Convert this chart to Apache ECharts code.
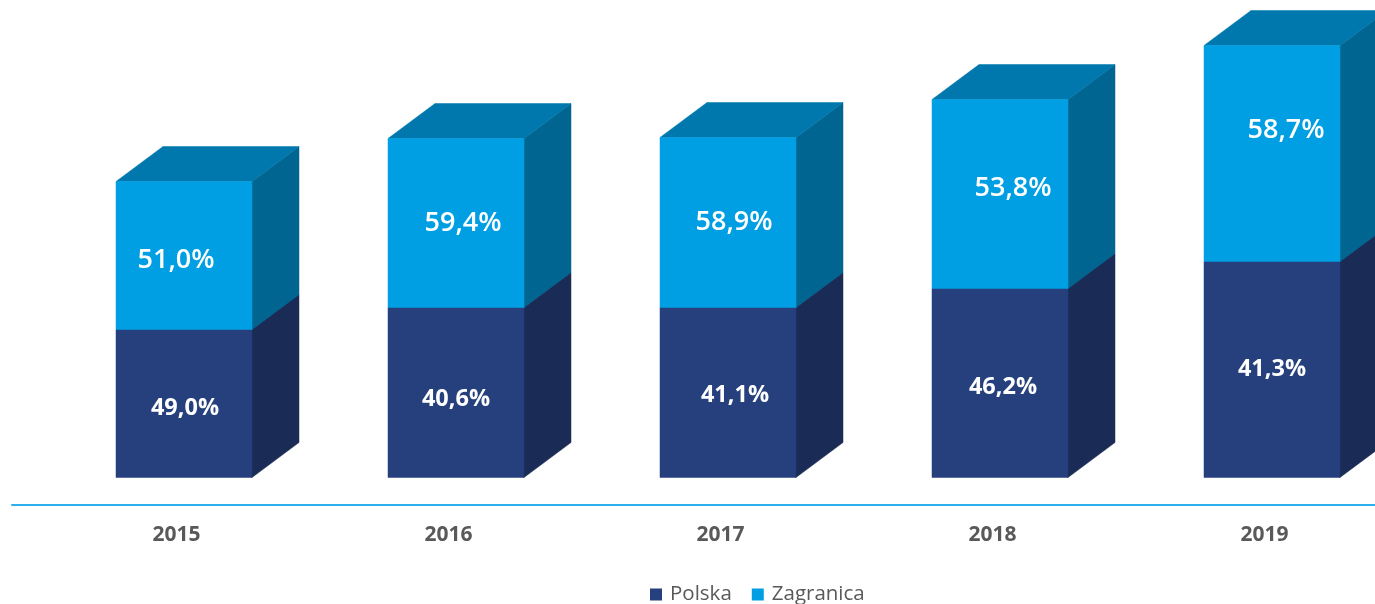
<!DOCTYPE html>
<html>
<head>
<meta charset="utf-8">
<style>html,body{margin:0;padding:0;background:#fff}#c{width:1375px;height:604px}</style>
<script src="https://cdn.jsdelivr.net/npm/echarts@6/dist/echarts.min.js"></script>
</head>
<body>
<div id="c"></div>
<script>
// Data (bar heights are on an arbitrary scale)
const years = ['2015', '2016', '2017', '2018', '2019'];
const polska = [148, 170, 170, 189, 216];
const zagranica = [148, 169, 170, 189, 216];
const polskaLabels = ['49,0%', '40,6%', '41,1%', '46,2%', '41,3%'];
const zagranicaLabels = ['51,0%', '59,4%', '58,9%', '53,8%', '58,7%'];

// Layout / style, separate from the data
const FONT = '"Open Sans", sans-serif';
const BAR_W = 136, DX = 47, DY = 35, FLOOR = 27.5, BAR_SHIFT = 36;
const polskaLabelShift = [[1, 5], [0, 7], [7, 3], [3, 4], [0, 0]];
const zagranicaLabelShift = [[-8, 5], [7, 0], [6, 0], [13, -6], [14, -23]];
const polskaStyle = {front: '#25407C', side: '#1A2B55', top: '#1F3568', size: 23.5, labels: polskaLabels, shift: polskaLabelShift, weight: 700};
const zagStyle = {front: '#009EE2', side: '#006591', top: '#0078AD', size: 27, labels: zagranicaLabels, shift: zagranicaLabelShift, weight: 600};

function box(st) {
  return function (params, api) {
    const i = params.dataIndex;
    const cx = api.coord([api.value(0), 0])[0] + BAR_SHIFT;
    const yb = api.coord([0, api.value(1)])[1] - FLOOR;
    const yt = api.coord([0, api.value(1) + api.value(2)])[1] - FLOOR;
    const l = cx - BAR_W / 2, r = cx + BAR_W / 2;
    const poly = (pts, fill) => ({type: 'polygon', shape: {points: pts}, style: {fill: fill, stroke: fill, lineWidth: 0.5}});
    return {
      type: 'group',
      children: [
        poly([[r, yt], [r + DX, yt - DY], [r + DX, yb - DY], [r, yb]], st.side),
        poly([[l, yt], [l + DX, yt - DY], [r + DX, yt - DY], [r, yt]], st.top),
        poly([[l, yt], [r, yt], [r, yb], [l, yb]], st.front),
        {
          type: 'text',
          style: {
            text: st.labels[i],
            x: cx + st.shift[i][0],
            y: (yt + yb) / 2 + st.shift[i][1],
            fill: '#fff',
            font: st.weight + ' ' + st.size + 'px ' + FONT,
            textAlign: 'center',
            textVerticalAlign: 'middle'
          }
        }
      ]
    };
  };
}

const chart = echarts.init(document.getElementById('c'), null, {renderer: 'canvas'});
chart.setOption({
  animation: false,
  backgroundColor: '#fff',
  grid: {left: 12, top: 5, width: 1360, height: 500},
  xAxis: {
    type: 'category',
    data: years,
    axisTick: {show: false},
    axisLine: {lineStyle: {color: '#2BB0EC', width: 2}},
    axisLabel: {color: '#595959', fontFamily: FONT, fontWeight: 'bold', fontSize: 21, margin: 20, padding: [0, 0, 0, 57]}
  },
  yAxis: {type: 'value', min: 0, max: 500, show: false, splitLine: {show: false}},
  legend: {
    left: 645, top: 579, icon: 'rect', itemWidth: 12, itemHeight: 12, itemGap: 20,
    textStyle: {color: '#595959', fontFamily: FONT, fontSize: 20.5, padding: [0, 0, 0, 3]},
    data: [
      {name: 'Polska', itemStyle: {color: polskaStyle.front}},
      {name: 'Zagranica', itemStyle: {color: zagStyle.front}}
    ]
  },
  graphic: [{
    type: 'line', shape: {x1: 1372, y1: 505, x2: 1375, y2: 505},
    style: {stroke: '#2BB0EC', lineWidth: 2}, silent: true
  }],
  series: [
    {
      name: 'Polska', type: 'custom', clip: false,
      itemStyle: {color: polskaStyle.front},
      renderItem: box(polskaStyle),
      data: polska.map((v, i) => [i, 0, v])
    },
    {
      name: 'Zagranica', type: 'custom', clip: false,
      itemStyle: {color: zagStyle.front},
      renderItem: box(zagStyle),
      data: zagranica.map((v, i) => [i, polska[i], v])
    }
  ]
});
</script>
</body>
</html>
